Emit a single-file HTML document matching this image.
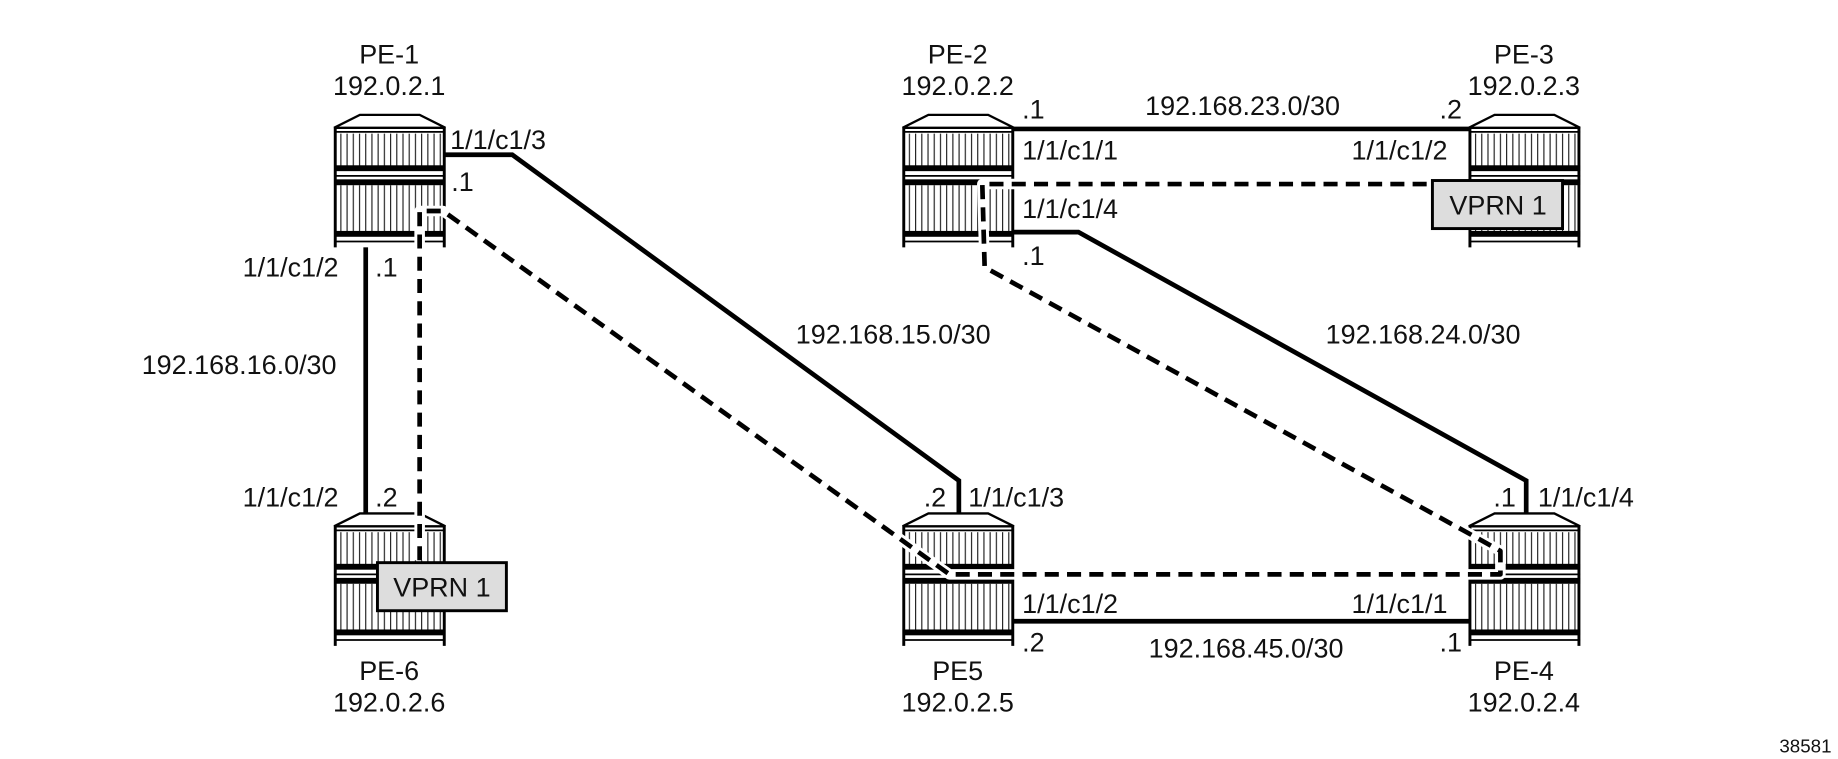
<!DOCTYPE html>
<html><head><meta charset="utf-8"><style>
html,body{margin:0;padding:0;background:#fff;}
svg{display:block;}
text{font-family:"Liberation Sans",sans-serif;font-size:23px;fill:#111;}
</style></head><body>
<svg width="1838" height="759" viewBox="0 0 1568 647.5" xmlns="http://www.w3.org/2000/svg">
<defs>
<pattern id="vl" width="5.3" height="10" patternUnits="userSpaceOnUse"><rect x="0" y="0" width="1" height="10" fill="#222"/></pattern>
<g id="rt">
<rect x="0" y="11" width="95" height="102" fill="#fff"/>
<polygon points="0,11 22,0 73,0 95,11" fill="#fff" stroke="#000" stroke-width="2"/>
<line x1="0" y1="14.5" x2="95" y2="14.5" stroke="#000" stroke-width="1.5"/>
<rect x="2" y="16" width="91" height="28" fill="url(#vl)"/>
<rect x="0" y="43" width="95" height="5" fill="#000"/>
<line x1="0" y1="52" x2="95" y2="52" stroke="#000" stroke-width="1.5"/>
<rect x="0" y="55" width="95" height="5" fill="#000"/>
<rect x="2" y="60" width="91" height="40" fill="url(#vl)"/>
<rect x="0" y="99" width="95" height="5" fill="#000"/>
<line x1="0" y1="108" x2="95" y2="108" stroke="#000" stroke-width="1.5"/>
<line x1="1" y1="11" x2="1" y2="113" stroke="#000" stroke-width="2.5"/>
<line x1="94" y1="11" x2="94" y2="113" stroke="#000" stroke-width="2.5"/>
</g>
</defs>
<g stroke="#000" stroke-width="4" fill="none">
<polyline points="380,132 437,132 818,410 818,440"/>
<line x1="312" y1="210" x2="312" y2="440"/>
<line x1="865" y1="110" x2="1255" y2="110"/>
<polyline points="865,198 920,198 1302,410 1302,440"/>
<line x1="865" y1="530" x2="1255" y2="530"/>
</g>
<use href="#rt" x="285" y="98"/>
<use href="#rt" x="770" y="98"/>
<use href="#rt" x="1253" y="98"/>
<use href="#rt" x="285" y="438"/>
<use href="#rt" x="770" y="438"/>
<use href="#rt" x="1253" y="438"/>
<g fill="none" stroke-linejoin="round">
<path d="M358,478 L358,180 L378,180 L810,490 L1280,490 L1280,470 L1262,460 L840,228 L838,157 L1222,157" stroke="#fff" stroke-width="9"/>
<path d="M358,478 L358,180 L378,180 L810,490 L1280,490 L1280,470 L1262,460 L840,228 L838,157 L1222,157" stroke="#000" stroke-width="4" stroke-dasharray="12,7"/>
</g>
<rect x="322" y="480" width="110" height="41" fill="#ddd" stroke="#000" stroke-width="2.5"/>
<text x="377" y="509" text-anchor="middle">VPRN 1</text>
<rect x="1222" y="154" width="111" height="41" fill="#ddd" stroke="#000" stroke-width="2.5"/>
<text x="1278" y="183" text-anchor="middle">VPRN 1</text>
<g text-anchor="middle">
<text x="332" y="54">PE-1</text><text x="332" y="81">192.0.2.1</text>
<text x="817" y="54">PE-2</text><text x="817" y="81">192.0.2.2</text>
<text x="1300" y="54">PE-3</text><text x="1300" y="81">192.0.2.3</text>
<text x="332" y="580">PE-6</text><text x="332" y="607">192.0.2.6</text>
<text x="817" y="580">PE5</text><text x="817" y="607">192.0.2.5</text>
<text x="1300" y="580">PE-4</text><text x="1300" y="607">192.0.2.4</text>
<text x="1060" y="98">192.168.23.0/30</text>
<text x="762" y="293">192.168.15.0/30</text>
<text x="1214" y="293">192.168.24.0/30</text>
<text x="204" y="319">192.168.16.0/30</text>
<text x="1063" y="561">192.168.45.0/30</text>
</g>
<text x="384" y="127">1/1/c1/3</text>
<text x="385" y="163">.1</text>
<text x="207" y="236">1/1/c1/2</text>
<text x="320" y="236">.1</text>
<text x="207" y="432">1/1/c1/2</text>
<text x="320" y="432">.2</text>
<text x="872" y="101">.1</text>
<text x="1228" y="101">.2</text>
<text x="872" y="136">1/1/c1/1</text>
<text x="1153" y="136">1/1/c1/2</text>
<text x="872" y="186">1/1/c1/4</text>
<text x="872" y="226">.1</text>
<text x="788" y="432">.2</text>
<text x="826" y="432">1/1/c1/3</text>
<text x="1274" y="432">.1</text>
<text x="1312" y="432">1/1/c1/4</text>
<text x="872" y="523">1/1/c1/2</text>
<text x="1153" y="523">1/1/c1/1</text>
<text x="872" y="556">.2</text>
<text x="1228" y="556">.1</text>
<text x="1518" y="642" style="font-size:16px">38581</text>
</svg>
</body></html>
